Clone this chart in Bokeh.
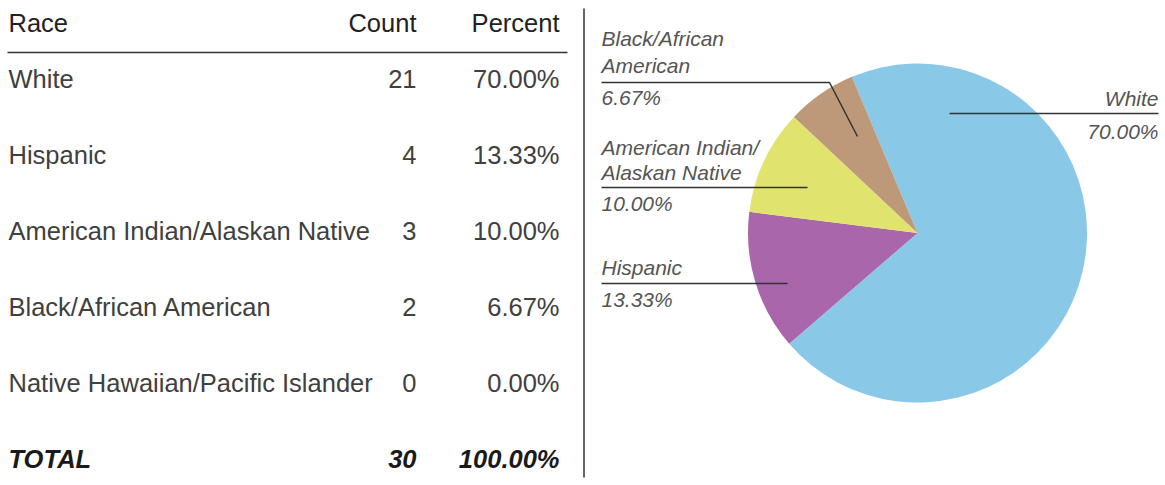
import math
from bokeh.plotting import figure
from bokeh.models import Range1d, ColumnDataSource
from bokeh.core.properties import value
from bokeh.embed import file_html
from bokeh.resources import INLINE

# ---------------- data ----------------
races = ["White", "Hispanic", "American Indian/Alaskan Native",
         "Black/African American", "Native Hawaiian/Pacific Islander"]
counts = [21, 4, 3, 2, 0]
percents = [70.00, 13.33, 10.00, 6.67, 0.00]
total_count = 30
total_percent = 100.00
headers = ["Race", "Count", "Percent"]
slice_colors = ["#8AC8E8", "#A966AA", "#E0E46E", "#BD9979", "#7FB77E"]
pie_label_lines = [["White"], ["Hispanic"], ["American Indian/", "Alaskan Native"],
                   ["Black/African", "American"], []]

# ---------------- layout helpers ----------------
IMG_H = 485
def Y(py):
    return IMG_H - py

FONT = "Liberation Sans"
W, H = 1165, 485
p = figure(width=W, height=H, output_backend="svg", toolbar_location=None,
           x_range=Range1d(0, W), y_range=Range1d(0, H),
           min_border=0, outline_line_color=None)
p.axis.visible = False
p.grid.visible = False
p.background_fill_color = "white"
p.border_fill_color = "white"

# ---------------- table ----------------
TS = "25.5px"
x_race, x_count, x_pct = 8, 416, 559
header_y = 22.5
row0_y, row_step = 78.5, 76

p.text(x=[x_race], y=[Y(header_y)], text=[headers[0]], text_font=value(FONT),
       text_font_size=TS, text_color="#222222", text_baseline="middle", text_align="left")
p.text(x=[x_count, x_pct], y=[Y(header_y)] * 2, text=headers[1:], text_font=value(FONT),
       text_font_size=TS, text_color="#222222", text_baseline="middle", text_align="right")
p.segment(x0=[7], y0=[Y(52)], x1=[567], y1=[Y(52)], line_color="#333333", line_width=1.5)

row_y = [Y(row0_y + i * row_step) for i in range(len(races))]
src = ColumnDataSource(dict(
    y=row_y, race=races, cnt=[str(c) for c in counts],
    pct=["%.2f%%" % v for v in percents]))
p.text(x=x_race, y="y", text="race", source=src, text_font=value(FONT),
       text_font_size=TS, text_color="#404040", text_baseline="middle", text_align="left")
p.text(x=x_count, y="y", text="cnt", source=src, text_font=value(FONT),
       text_font_size=TS, text_color="#404040", text_baseline="middle", text_align="right")
p.text(x=x_pct, y="y", text="pct", source=src, text_font=value(FONT),
       text_font_size=TS, text_color="#404040", text_baseline="middle", text_align="right")

ty = Y(row0_y + len(races) * row_step)
p.text(x=[x_race], y=[ty], text=["TOTAL"], text_font=value(FONT), text_font_style="bold italic",
       text_font_size=TS, text_color="#1a1a1a", text_baseline="middle", text_align="left")
p.text(x=[x_count, x_pct], y=[ty, ty], text=[str(total_count), "%.2f%%" % total_percent],
       text_font=value(FONT), text_font_style="bold italic",
       text_font_size=TS, text_color="#1a1a1a", text_baseline="middle", text_align="right")

# separator
p.segment(x0=[583.5], y0=[Y(8)], x1=[583.5], y1=[Y(477)], line_color="#333333", line_width=1.5)

# ---------------- pie ----------------
cx, cy, R = 917, Y(232.5), 169.5
start = math.radians(112.8)
starts, ends, cols = [], [], []
a = start
for v, c in zip(percents, slice_colors):
    if v <= 0:
        continue
    span = v / 100.0 * 2 * math.pi
    ends.append(a)
    starts.append(a - span)
    cols.append(c)
    a -= span
p.wedge(x=[cx] * len(cols), y=[cy] * len(cols), radius=R, start_angle=starts, end_angle=ends,
        fill_color=cols, line_color=None)

# ---------------- pie labels ----------------
LBL = dict(text_font=value(FONT), text_font_style="italic", text_font_size="21px",
           text_color="#555555", text_baseline="middle")
LINE = dict(line_color="#333333", line_width=1.5)

# White (right aligned)
p.text(x=[1158], y=[Y(97.5)], text=pie_label_lines[0], text_align="right", **LBL)
p.text(x=[1158], y=[Y(130.5)], text=["%.2f%%" % percents[0]], text_align="right", **LBL)
p.segment(x0=[949], y0=[Y(113)], x1=[1158], y1=[Y(113)], **LINE)

# Hispanic
p.text(x=[601], y=[Y(266.5)], text=pie_label_lines[1], text_align="left", **LBL)
p.text(x=[601], y=[Y(298.5)], text=["%.2f%%" % percents[1]], text_align="left", **LBL)
p.segment(x0=[601], y0=[Y(283)], x1=[787], y1=[Y(283)], **LINE)

# American Indian / Alaskan Native
p.text(x=[601, 601], y=[Y(146.5), Y(171.5)], text=pie_label_lines[2], text_align="left", **LBL)
p.text(x=[601], y=[Y(202.5)], text=["%.2f%%" % percents[2]], text_align="left", **LBL)
p.segment(x0=[601], y0=[Y(187)], x1=[807], y1=[Y(187)], **LINE)

# Black / African American
p.text(x=[601, 601], y=[Y(37.5), Y(64.5)], text=pie_label_lines[3], text_align="left", **LBL)
p.text(x=[601], y=[Y(96.5)], text=["%.2f%%" % percents[3]], text_align="left", **LBL)
p.line(x=[601, 829, 857], y=[Y(82), Y(82), Y(136)], **LINE)

open("out.html", "w").write(file_html(p, INLINE))
